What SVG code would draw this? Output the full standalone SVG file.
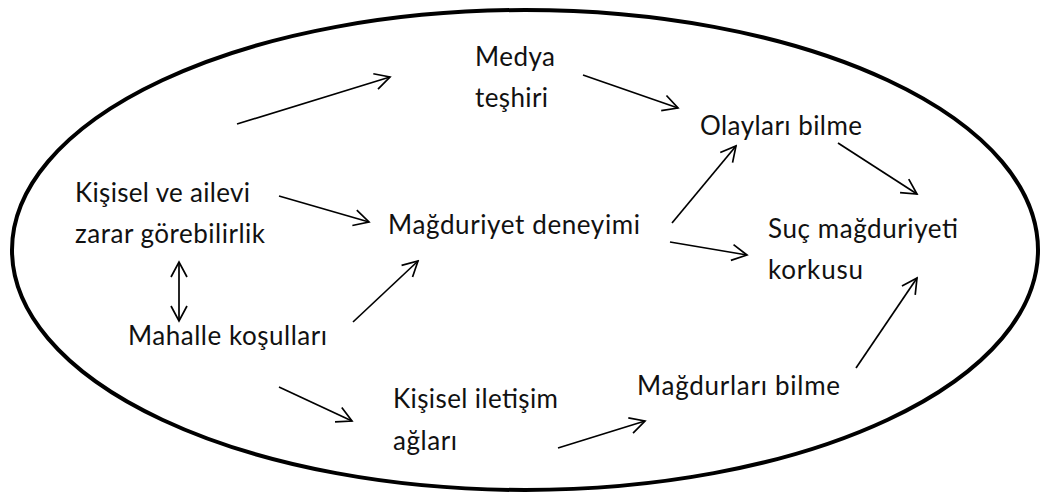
<svg xmlns="http://www.w3.org/2000/svg" width="1042" height="494" viewBox="0 0 1042 494">
<defs>
<style>
.t{font-family:Lato,"Open Sans","Liberation Sans",sans-serif;font-size:26px;fill:#111}
.c{stroke:#000;stroke-width:1.7;fill:none;marker-end:url(#ah)}
</style>
<marker id="ah" markerUnits="userSpaceOnUse" markerWidth="18" markerHeight="20" refX="16" refY="10" orient="auto-start-reverse">
<path d="M1,2 L16,10 L1,18" fill="none" stroke="#000" stroke-width="1.7"/>
</marker>
</defs>
<rect width="1042" height="494" fill="#fff"/>
<ellipse id="boundary" cx="525" cy="250" rx="513" ry="240" fill="none" stroke="#000" stroke-width="4"/>
<g id="n-kisisel"><text class="t" x="75" y="202" textLength="175">Kişisel ve ailevi</text><text class="t" x="75" y="243" textLength="190">zarar görebilirlik</text></g>
<g id="n-medya"><text class="t" x="475" y="66" textLength="80">Medya</text><text class="t" x="475" y="107" textLength="73">teşhiri</text></g>
<g id="n-magduriyet"><text class="t" x="388" y="234" textLength="252">Mağduriyet deneyimi</text></g>
<g id="n-olaylari"><text class="t" x="700" y="135" textLength="162">Olayları bilme</text></g>
<g id="n-suc"><text class="t" x="768" y="238" textLength="190">Suç mağduriyeti</text><text class="t" x="768" y="279" textLength="95">korkusu</text></g>
<g id="n-mahalle"><text class="t" x="128" y="345" textLength="199">Mahalle koşulları</text></g>
<g id="n-iletisim"><text class="t" x="393" y="408" textLength="165">Kişisel iletişim</text><text class="t" x="393" y="450" textLength="64">ağları</text></g>
<g id="n-magdurlari"><text class="t" x="637" y="395" textLength="203">Mağdurları bilme</text></g>
<g id="connectors">
<line class="c" x1="237" y1="124" x2="390" y2="77"/>
<line class="c" x1="583" y1="75" x2="678" y2="108"/>
<line class="c" x1="838" y1="143" x2="917" y2="194"/>
<line class="c" x1="672" y1="223" x2="736" y2="146"/>
<line class="c" x1="670" y1="242" x2="747" y2="255"/>
<line class="c" x1="279" y1="196" x2="369" y2="222"/>
<line class="c" x1="353" y1="322" x2="418" y2="261"/>
<line class="c" x1="179" y1="262" x2="179" y2="321" style="marker-start:url(#ah)"/>
<line class="c" x1="279" y1="387" x2="352" y2="421"/>
<line class="c" x1="558" y1="448" x2="645" y2="421"/>
<line class="c" x1="856" y1="368" x2="917" y2="278"/>
</g>
</svg>
